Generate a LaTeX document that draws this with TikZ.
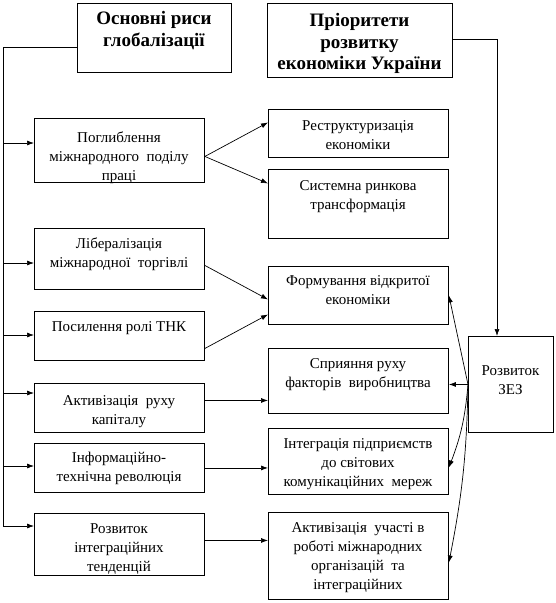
\documentclass[tikz,border=0pt]{standalone}
\usepackage{fontspec}
\setmainfont{Liberation Serif}
\usetikzlibrary{arrows.meta}
\newcommand\mybox[5]{\node[box,anchor=north west,minimum width=#4pt,minimum height=#5pt] (#1) at (#2,#3) {};}
\begin{document}
\begin{tikzpicture}[x=1pt,y=-1pt,
  box/.style={draw, line width=0.9pt, inner sep=0pt},
  txt/.style={inner sep=0pt, align=center, font=\fontsize{15}{19}\selectfont, anchor=north},
  hdr/.style={inner sep=0pt, align=center, font=\fontsize{19}{21.5}\selectfont\bfseries, anchor=north},
  arr/.style={-{Latex[length=7pt,width=5pt]}, line width=0.7pt},
  ln/.style={line width=0.8pt}]
\useasboundingbox (0,0) rectangle (556,603);
% boxes
\mybox{ho}{77}{3}{154}{69}
\mybox{hp}{267}{3}{185}{74}
\mybox{pog}{34}{118}{170}{64}
\mybox{lib}{34}{228}{170}{61}
\mybox{tnk}{34}{311}{170}{49}
\mybox{akt}{34}{383}{170}{49}
\mybox{inf}{34}{443}{170}{49}
\mybox{roz}{34}{513}{170}{62}
\mybox{res}{268}{109}{180}{48}
\mybox{sys}{268}{169}{180}{69}
\mybox{form}{268}{266}{180}{58}
\mybox{spr}{268}{348}{180}{65}
\mybox{int}{268}{428}{180}{66}
\mybox{aku}{268}{512}{180}{87}
\mybox{zez}{468}{336}{85}{96}
% texts
\node[hdr] (ho-t) at (154,11.5) {Основні риси\\глобалізації};
\node[hdr] (hp-t) at (359.5,13.5) {Пріоритети\\розвитку\\економіки України};
\node[txt] (pog-t) at (119,132) {Поглиблення\\міжнародного\ \ поділу\\праці};
\node[txt] (lib-t) at (119,238) {Лібералізація\\міжнародної\ \ торгівлі};
\node[txt] (tnk-t) at (119,321) {Посилення ролі ТНК};
\node[txt] (akt-t) at (119,395) {Активізація\ \ руху\\капіталу};
\node[txt] (inf-t) at (119,452) {Інформаційно-\\технічна революція};
\node[txt] (roz-t) at (119,523) {Розвиток\\інтеграційних\\тенденцій};
\node[txt] (res-t) at (358,120) {Реструктуризація\\економіки};
\node[txt] (sys-t) at (358,180) {Системна ринкова\\трансформація};
\node[txt] (form-t) at (358,275) {Формування відкритої\\економіки};
\node[txt] (spr-t) at (358,358) {Сприяння руху\\факторів\ \ виробництва};
\node[txt] (int-t) at (358,438) {Інтеграція підприємств\\до світових\\комунікаційних\ \ мереж};
\node[txt] (aku-t) at (358,522) {Активізація\ \ участі в\\роботі міжнародних\\організацій\ \ та\\інтеграційних};
\node[txt] (zez-t) at (510.5,365) {Розвиток\\ЗЕЗ};
% spine on the left
\coordinate (sptop) at (3,47);
\coordinate (spbot) at (3,526);
\draw[ln] (sptop -| ho.west) -- (sptop) -- (spbot);
\coordinate (s1) at (3,143);
\coordinate (s2) at (3,263);
\coordinate (s3) at (3,335);
\coordinate (s4) at (3,393);
\coordinate (s5) at (3,466);
\coordinate (s6) at (3,526);
\draw[arr] (s1) -- (s1 -| pog.west);
\draw[arr] (s2) -- (s2 -| lib.west);
\draw[arr] (s3) -- (s3 -| tnk.west);
\draw[arr] (s4) -- (s4 -| akt.west);
\draw[arr] (s5) -- (s5 -| inf.west);
\draw[arr] (s6) -- (s6 -| roz.west);
% right connector
\coordinate (rc) at (497,39);
\draw[arr] (rc -| hp.east) -- (rc) -- (rc |- zez.north);
% left to middle
\draw[arr] ([yshift=-6pt]pog.east) -- ([yshift=11pt]res.west);
\draw[arr] ([yshift=-6pt]pog.east) -- ([yshift=20.5pt]sys.west);
\draw[arr] ([yshift=-6.5pt]lib.east) -- ([yshift=-4pt]form.west);
\draw[arr] ([yshift=-12.5pt]tnk.east) -- ([yshift=-19pt]form.west);
\draw[arr] ([yshift=7.5pt]akt.east) coordinate (a1) -- (a1 -| spr.west);
\draw[arr] (inf.east) -- (inf.east -| int.west);
\draw[arr] ([yshift=4pt]roz.east) coordinate (a2) -- (a2 -| aku.west);
% from ZEZ
\draw[arr] (zez.west) -- (form.east);
\draw[arr] (zez.west) -- (zez.west -| spr.east);
\draw[arr] (zez.west) to[bend left=8] ([yshift=-6pt]int.east);
\draw[arr] (zez.west) to[bend left=5] ([yshift=-6.5pt]aku.east);
\end{tikzpicture}
\end{document}
